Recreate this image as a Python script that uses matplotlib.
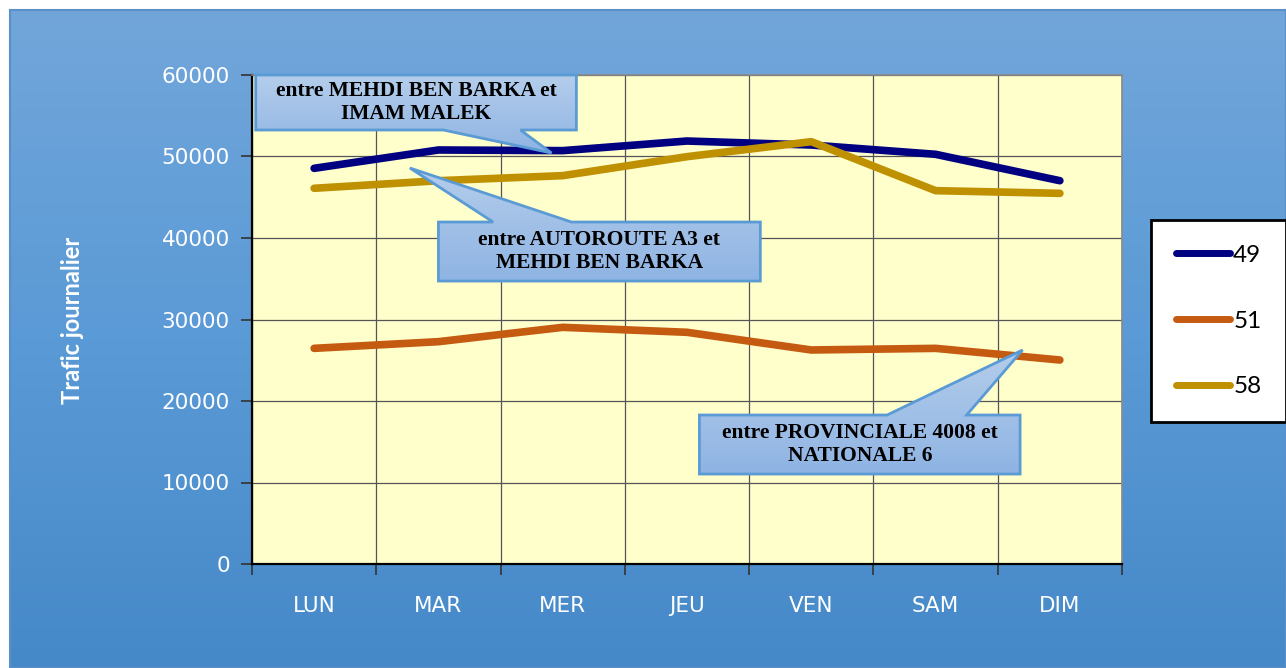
import matplotlib
matplotlib.use('Agg')
import numpy as np
import matplotlib.pyplot as plt
from matplotlib.patches import Polygon
from matplotlib.colors import LinearSegmentedColormap

# donnees
jours = ['LUN', 'MAR', 'MER', 'JEU', 'VEN', 'SAM', 'DIM']
trafic_49 = [48550, 50800, 50720, 51900, 51410, 50270, 47030]
trafic_51 = [26460, 27280, 29040, 28430, 26260, 26460, 25030]
trafic_58 = [46100, 47030, 47650, 49980, 51820, 45810, 45480]
series = ['49', '51', '58']

# bulles : texte, boite (x0, x1, y0, y1), base de la pointe, cote, pointe
bulles = [
    ("entre MEHDI BEN BARKA et\nIMAM MALEK", (-0.47, 2.11, 53250, 60000), (1.04, 1.66), 'bottom', (1.91, 50430)),
    ("entre AUTOROUTE A3 et\nMEHDI BEN BARKA", (1.0, 3.59, 34720, 41960), (1.44, 2.07), 'top', (0.77, 48590)),
    ("entre PROVINCIALE 4008 et\nNATIONALE 6", (3.1, 5.68, 11040, 18280), (4.61, 5.25), 'top', (5.70, 26260)),
]

W, H = 1286, 668
fig = plt.figure(figsize=(W / 100, H / 100), dpi=100)
fig.patch.set_facecolor('white')

# fond degrade bleu
bg = fig.add_axes([10 / W, 0, 1276 / W, 658 / H], zorder=-10)
fond = LinearSegmentedColormap.from_list('fond', ['#4689c8', '#5a9ad6', '#72a6da'])
bg.imshow(np.linspace(0, 1, 256).reshape(-1, 1)[::-1], aspect='auto', cmap=fond,
          extent=[0, 1, 0, 1])
bg.set_xlim(0, 1)
bg.set_ylim(0, 1)
for s in bg.spines.values():
    s.set_color('#5b8fc8')
    s.set_linewidth(1.5)
bg.set_xticks([])
bg.set_yticks([])

ax = fig.add_axes([252 / W, 104 / H, 870 / W, 489 / H])
ax.set_facecolor('#ffffcc')
x = np.arange(len(jours))
ax.plot(x, trafic_49, color='#000080', lw=5.5, solid_capstyle='round', solid_joinstyle='round', label=series[0], zorder=3)
ax.plot(x, trafic_51, color='#c55a11', lw=5.5, solid_capstyle='round', solid_joinstyle='round', label=series[1], zorder=3)
ax.plot(x, trafic_58, color='#bf9000', lw=5.5, solid_capstyle='round', solid_joinstyle='round', label=series[2], zorder=3)

ax.set_xlim(-0.5, len(jours) - 0.5)
ax.set_ylim(0, 60000)
ax.set_yticks(np.arange(0, 60001, 10000))
ax.set_xticks(x)
ax.set_xticklabels(jours)
ax.set_xticks(np.arange(-0.5, len(jours), 1), minor=True)
ax.tick_params(axis='x', which='major', length=0, pad=23, labelsize=15.5, labelcolor='white')
ax.tick_params(axis='x', which='minor', length=8, width=1.2, color='#333333')
ax.tick_params(axis='y', length=8, width=1.2, color='#333333', pad=8, labelsize=15.5, labelcolor='white')
ax.grid(axis='y', color='#555555', lw=0.9)
ax.grid(axis='x', which='minor', color='#555555', lw=0.9)
ax.set_axisbelow(True)
for side in ['left', 'bottom']:
    ax.spines[side].set_color('black')
    ax.spines[side].set_linewidth(1.6)
for side in ['top', 'right']:
    ax.spines[side].set_color('#8a8a8a')
    ax.spines[side].set_linewidth(1.2)

fig.text(73 / W, 1 - 320 / H, 'Trafic journalier', rotation=90, ha='center', va='center',
         color='white', fontsize=17, fontweight='bold', family='Lato')

# bulles de commentaire
bulle_cmap = LinearSegmentedColormap.from_list('bulle', ['#8fb4e3', '#b4cdeb'])
for texte, (x0, x1, y0, y1), (b0, b1), cote, pointe in bulles:
    if cote == 'bottom':
        pts = [(x0, y1), (x1, y1), (x1, y0), (b1, y0), pointe, (b0, y0), (x0, y0)]
    else:
        pts = [(x0, y0), (x0, y1), (b0, y1), pointe, (b1, y1), (x1, y1), (x1, y0)]
    poly = Polygon(pts, closed=True, facecolor='none', edgecolor='#5b9bd5', lw=2,
                   zorder=6, clip_on=False, joinstyle='miter')
    ax.add_patch(poly)
    xs = [p[0] for p in pts]
    ys = [p[1] for p in pts]
    im = ax.imshow(np.linspace(0, 1, 64).reshape(-1, 1), cmap=bulle_cmap, aspect='auto',
                   origin='lower', extent=(min(xs), max(xs), y0, y1), zorder=5)
    if cote == 'bottom':
        im.set_extent((min(xs), max(xs), min(ys), y1))
    else:
        im.set_extent((min(xs), max(xs), y0, max(ys)))
    im.set_clip_path(poly)
    ax.text((x0 + x1) / 2, (y0 + y1) / 2, texte, ha='center', va='center', zorder=7,
            fontsize=15.5, fontweight='bold', family='Liberation Serif', linespacing=1.15)

ax.set_xlim(-0.5, len(jours) - 0.5)
ax.set_ylim(0, 60000)

leg = fig.legend(loc='center', bbox_to_anchor=(1218.5 / W, 1 - 321 / H),
                 frameon=True, fancybox=False, edgecolor='black', framealpha=1,
                 handlelength=2.25, handletextpad=0.12, labelspacing=1.85, borderpad=1.0,
                 borderaxespad=0, prop={'family': 'Lato', 'size': 17.5})
leg.get_frame().set_linewidth(2)
for line in leg.get_lines():
    line.set_linewidth(5)

fig.savefig('out.png', dpi=100)
